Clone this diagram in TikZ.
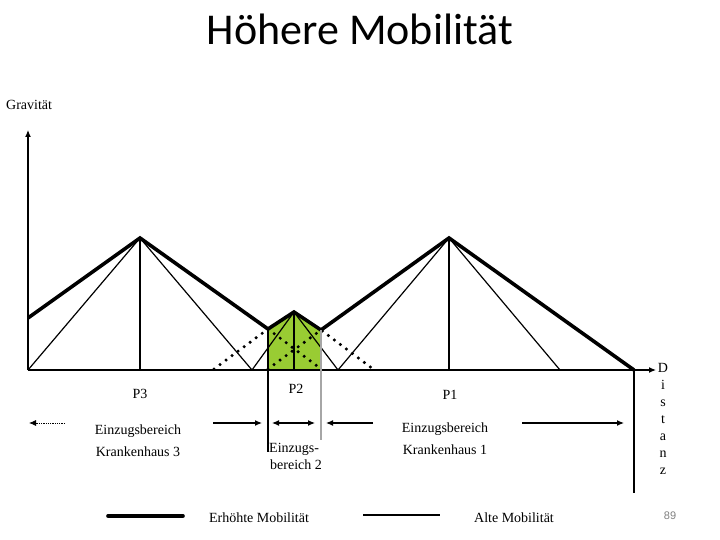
\documentclass[tikz,border=0pt]{standalone}
\usepackage{fontspec}
\setmainfont{Liberation Serif}
\newfontfamily\titelfont{Carlito}
\newfontfamily\seitenfont{Liberation Sans}
\usetikzlibrary{arrows.meta}
\definecolor{gruen}{RGB}{153,204,51}

\begin{document}
\begin{tikzpicture}[x=1pt,y=-1pt,>={Latex[length=7pt,width=6pt]},
	erhoeht/.style={line width=3.6pt},
	alt/.style={line width=1.2pt},
	punkte/.style={line width=3.4pt,line cap=round,dash pattern=on 0pt off 7.5pt},
	beschr/.style={font=\fontsize{14}{17}\selectfont,inner sep=0pt}]
	\useasboundingbox (0,0) rectangle (720,540);

	% Achsen und Punkte
	\coordinate (O) at (28,370);
	\coordinate (ytip) at (28,130);
	\coordinate (xtip) at (656,370);
	\coordinate (pk3) at (140,238);
	\coordinate (pk2) at (294,312);
	\coordinate (pk1) at (449,238);
	\coordinate (l3) at (28,318);
	\coordinate (v32) at (268,329);
	\coordinate (v21) at (321,330);
	\coordinate (e1) at (634,370);
	\coordinate (b3) at (140,370);
	\coordinate (b32) at (252,370);
	\coordinate (b2) at (294,370);
	\coordinate (b21) at (338,370);
	\coordinate (b1) at (449,370);
	\coordinate (b1r) at (560,370);
	\coordinate (d3) at (214,369);
	\coordinate (d2l) at (268,369);
	\coordinate (d2r) at (321,369);
	\coordinate (d1) at (373,369);

	% Einzugsbereich 2
	\fill [gruen] (v32) -- (pk2) -- (v21) -- (d2r |- O) -- (d2l |- O) -- cycle;

	\draw [alt,->] (O) -- (ytip);
	\draw [alt,->] (O) -- (xtip);

	% alte Mobilitaet
	\draw [alt] (O) -- (pk3) -- (b32) -- (pk2) -- (b21) -- (pk1) -- (b1r);
	\draw [alt] (pk3) -- (b3);
	\draw [alt] (pk2) -- (b2);
	\draw [alt] (pk1) -- (b1);

	\draw [punkte] (d3) -- (v32) -- (d2r);
	\draw [punkte] (d2l) -- (v21) -- (d1);

	% erhoehte Mobilitaet
	\draw [erhoeht] (l3) -- (pk3) -- (v32) -- (pk2) -- (v21) -- (pk1) -- (e1);

	\draw [alt] (v32) -- (268,452);
	\draw [alt,gray!70] (v21) -- (321,440);
	\draw [alt] (e1) -- (634,493);

	% Beschriftung
	\node [font=\titelfont\fontsize{44}{50}\selectfont, anchor=base] (titel) at (360,45) {Höhere Mobilität};
	\node [beschr, anchor=base west] (grav) at (6,110) {Gravität};
	\node [beschr, anchor=north, align=center] (dist) at (663,363) {D\\i\\s\\t\\a\\n\\z};
	\node [beschr, anchor=base] (p3) at (140,398) {P3};
	\node [beschr, anchor=base] (p2) at (296,393) {P2};
	\node [beschr, anchor=base] (p1) at (450,399) {P1};
	\node [beschr, anchor=base] (ez3) at (138,434) {Einzugsbereich};
	\node [beschr, anchor=base] (kh3) at (138,456) {Krankenhaus 3};
	\node [beschr, anchor=base west] (ez2) at (269,452) {Einzugs-};
	\node [beschr, anchor=base west] (kh2) at (270,469) {bereich 2};
	\node [beschr, anchor=base] (ez1) at (445,432) {Einzugsbereich};
	\node [beschr, anchor=base] (kh1) at (445,454) {Krankenhaus 1};

	% Pfeile
	\coordinate (a3s) at (65,423);
	\coordinate (a3e) at (29,423);
	\coordinate (a32s) at (213,423);
	\coordinate (a32e) at (262,423);
	\coordinate (a2s) at (272,423);
	\coordinate (a2e) at (315,423);
	\coordinate (a21s) at (373,423);
	\coordinate (a21e) at (326,423);
	\coordinate (a1s) at (522,423);
	\coordinate (a1e) at (624,423);
	\draw [line width=0.8pt,densely dotted,->] (a3s) -- (a3e);
	\draw [alt,->] (a32s) -- (a32e);
	\draw [alt,<->] (a2s) -- (a2e);
	\draw [alt,->] (a21s) -- (a21e);
	\draw [alt,->] (a1s) -- (a1e);

	% Legende
	\coordinate (lg1a) at (108,516);
	\coordinate (lg1b) at (183,516);
	\coordinate (lg2a) at (363,515);
	\coordinate (lg2b) at (440,515);
	\draw [erhoeht,line cap=round] (lg1a) -- (lg1b);
	\draw [alt] (lg2a) -- (lg2b);
	\node [beschr, anchor=base] (leg1) at (259,522) {Erhöhte Mobilität};
	\node [beschr, anchor=base] (leg2) at (514,522) {Alte Mobilität};
	\node [font=\seitenfont\fontsize{11}{13}\selectfont, text=gray, anchor=base] (seite) at (670,519) {89};
\end{tikzpicture}
\end{document}
